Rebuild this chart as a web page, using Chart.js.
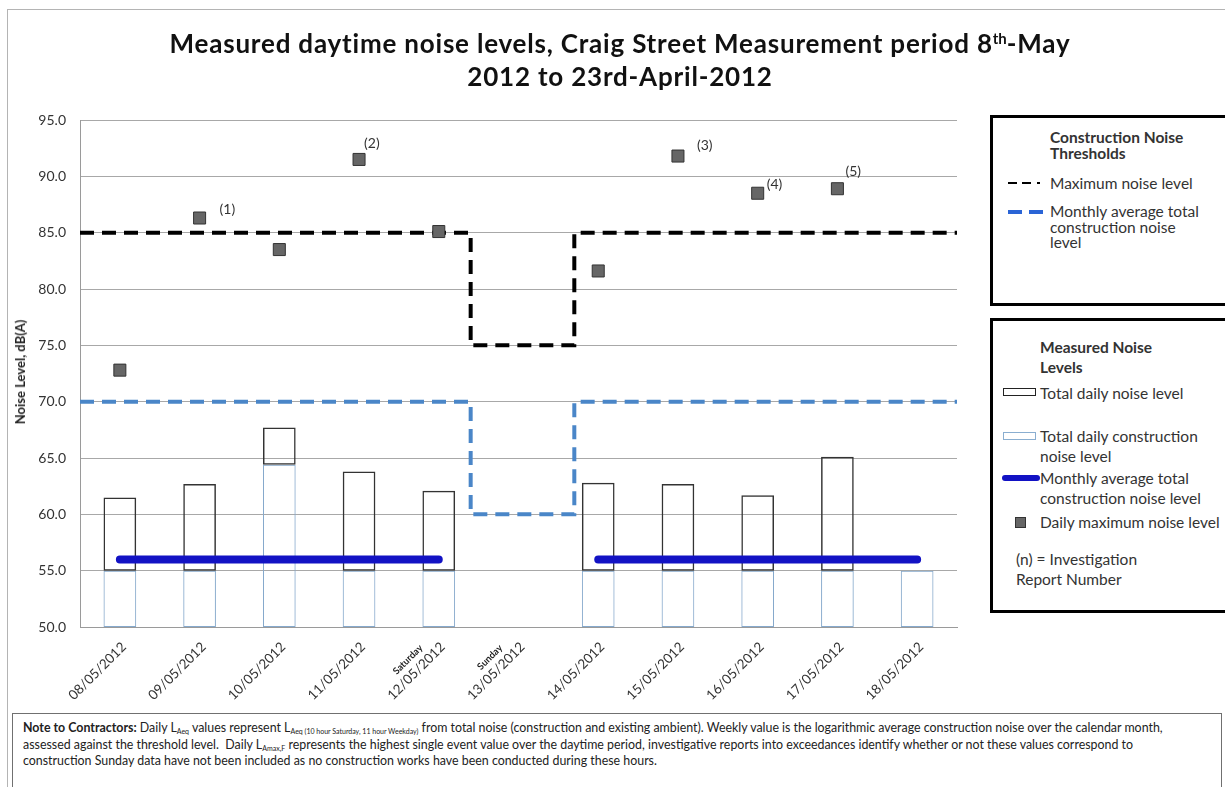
<!DOCTYPE html>
<html>
<head>
<meta charset="utf-8">
<script src="https://cdn.jsdelivr.net/npm/chart.js"></script>
<style>
  body { margin: 0; width: 1225px; height: 787px; overflow: hidden; background: #fff; position: relative; font-family: Lato, "Open Sans", sans-serif; color: #333; }
  #frame { position: absolute; left: 7px; top: 9px; width: 1300px; height: 900px; border-left: 1px solid #b4b4b4; border-top: 1px solid #b4b4b4; }
  #chart { position: absolute; left: 0; top: 0; }
  #title { position: absolute; left: 20px; width: 1200px; top: 27px; text-align: center; font-weight: bold; font-size: 26px; letter-spacing: 0.8px; line-height: 33px; color: #111; }
  #title sup { font-size: 15px; vertical-align: 9px; line-height: 0; letter-spacing: 0; }
  #ytitle { position: absolute; left: 20px; top: 372px; transform: translate(-50%, -50%) rotate(-90deg); font-weight: bold; font-size: 13px; white-space: nowrap; color: #222; }
  .box { position: absolute; left: 990px; width: 245px; border: 3px solid #000; box-sizing: border-box; background: #fff; }
  .t { position: absolute; font-size: 15.5px; line-height: 20px; white-space: nowrap; color: #333; }
  .b { font-weight: bold; color: #333; }
  #notes { position: absolute; left: 12px; top: 713px; width: 1210px; height: 100px; border: 1.5px solid #707070; box-sizing: border-box; padding: 6px 0 0 10px; font-size: 12.4px; line-height: 16.6px; white-space: nowrap; color: #222; }
  #notes sub { font-size: 7px; vertical-align: -2px; line-height: 0; }
</style>
</head>
<body>
<div id="frame"></div>
<canvas id="chart" width="980" height="710"></canvas>
<div id="title">Measured daytime noise levels, Craig Street Measurement period 8<sup>th</sup>-May<br>2012 to 23rd-April-2012</div>
<div id="ytitle">Noise Level, dB(A)</div>

<div class="box" style="top:115px;height:191px;"></div>
<div class="t b" style="left:1050px;top:129px;line-height:16px;">Construction Noise<br>Thresholds</div>
<svg style="position:absolute;left:1008px;top:177px;" width="40" height="12"><line x1="0" y1="6" x2="38" y2="6" stroke="#000" stroke-width="2" stroke-dasharray="9,5,9,6,3"/></svg>
<div class="t" style="left:1050px;top:174px;line-height:18px;">Maximum noise level</div>
<svg style="position:absolute;left:1008px;top:206px;" width="40" height="12"><line x1="0" y1="6" x2="38" y2="6" stroke="#2a64d6" stroke-width="4" stroke-dasharray="14,7"/></svg>
<div class="t" style="left:1050px;top:204px;line-height:15.5px;">Monthly average total<br>construction noise<br>level</div>

<div class="box" style="top:318px;height:295px;"></div>
<div class="t b" style="left:1040px;top:337px;">Measured Noise<br>Levels</div>
<div style="position:absolute;left:1003px;top:388px;width:33px;height:8px;border:1.5px solid #222;box-sizing:border-box;"></div>
<div class="t" style="left:1040px;top:383px;">Total daily noise level</div>
<div style="position:absolute;left:1003px;top:432px;width:33px;height:8px;border:1px solid #8aaed0;box-sizing:border-box;"></div>
<div class="t" style="left:1040px;top:426px;">Total daily construction<br>noise level</div>
<div style="position:absolute;left:1002px;top:475px;width:38px;height:6px;background:#1212c4;border-radius:3px;"></div>
<div class="t" style="left:1040px;top:468px;">Monthly average total<br>construction noise level</div>
<div style="position:absolute;left:1015px;top:517px;width:11px;height:11px;background:#666;border:1px solid #333;box-sizing:border-box;"></div>
<div class="t" style="left:1040px;top:512px;">Daily maximum noise level</div>
<div class="t" style="left:1016px;top:549px;">(n) = Investigation<br>Report Number</div>

<div id="notes"><b>Note to Contractors:</b> Daily L<sub>Aeq</sub> values represent L<sub>Aeq (10 hour Saturday, 11 hour Weekday)</sub> from total noise (construction and existing ambient). Weekly value is the logarithmic average construction noise over the calendar month,<br>assessed against the threshold level.&nbsp; Daily L<sub>Amax,F</sub> represents the highest single event value over the daytime period, investigative reports into exceedances identify whether or not these values correspond to<br>construction Sunday data have not been included as no construction works have been conducted during these hours.</div>

<script>
// measurement days
const days = ["08/05/2012", "09/05/2012", "10/05/2012", "11/05/2012", "12/05/2012", "13/05/2012",
  "14/05/2012", "15/05/2012", "16/05/2012", "17/05/2012", "18/05/2012"];
const dayNames = ["", "", "", "", "Saturday", "Sunday", "", "", "", "", ""];

// dB(A) values
const totalDaily = [61.5, 62.7, 67.7, 63.8, 62.1, null, 62.8, 62.7, 61.7, 65.1, null];
const constructionDaily = [55, 55, 64.4, 55, 55, null, 55, 55, 55, 55, 55];
const dailyMax = [72.8, 86.3, 83.5, 91.5, 85.1, null, 81.6, 91.8, 88.5, 88.9, null];
const reportNumbers = ["", "(1)", "", "(2)", "", "", "", "(3)", "(4)", "(5)", ""];
const monthlyAvgTotal = [56, 56, 56, 56, 56, null, 56, 56, 56, 56, 56];

// threshold steps (x in day index units)
const thresholdX = [-0.5, 4.4, 4.4, 5.7, 5.7, 10.5];
const maxNoiseLevel = [85, 85, 75, 75, 85, 85];
const monthlyAvgThreshold = [70, 70, 60, 60, 70, 70];

const yMin = 50;
const yMax = 95;
const yStep = 5;

const font = "Lato, 'Open Sans', sans-serif";

// label nudges for the report numbers, next to their squares
const reportOffsets = {1: [20, -9], 3: [5, -16], 7: [19, -11], 8: [9, -9], 9: [8, -17]};

const annotatePlugin = {
  id: "annotate",
  afterDatasetsDraw(chart) {
    const ctx = chart.ctx;
    const meta = chart.getDatasetMeta(0);
    ctx.save();
    ctx.font = "14px " + font;
    ctx.fillStyle = "#333";
    ctx.textBaseline = "middle";
    reportNumbers.forEach((txt, i) => {
      if (!txt) return;
      const pt = meta.data[i];
      const off = reportOffsets[i] || [8, -10];
      ctx.fillText(txt, pt.x + off[0], pt.y + off[1]);
    });
    ctx.restore();
  },
  afterDraw(chart) {
    const ctx = chart.ctx;
    const xs = chart.scales.x;
    ctx.save();
    dayNames.forEach((name, i) => {
      if (!name) return;
      const px = xs.getPixelForValue(i) + 4;
      const py = xs.top + 10;
      ctx.translate(px, py);
      ctx.rotate(-Math.PI / 4);
      ctx.font = "bold 9.5px " + font;
      ctx.fillStyle = "#222";
      ctx.textAlign = "right";
      ctx.textBaseline = "bottom";
      ctx.fillText(name, -22, -4);
      ctx.setTransform(1, 0, 0, 1, 0, 0);
    });
    ctx.restore();
  }
};

function createChart() {
  const canvas = document.querySelector("#chart");

  new Chart(canvas, {
    data: {
      labels: days,
      datasets: [
        {
          type: "line",
          label: "Daily maximum noise level",
          data: dailyMax,
          showLine: false,
          pointStyle: "rect",
          pointRadius: 8.5,
          pointBackgroundColor: "#666",
          pointBorderColor: "#333",
          pointBorderWidth: 1,
          order: 0,
        },
        {
          type: "line",
          label: "Maximum noise level",
          xAxisID: "xStep",
          data: thresholdX.map((x, i) => ({ x: x, y: maxNoiseLevel[i] })),
          borderColor: "#000",
          borderWidth: 4,
          borderDash: [14, 8],
          pointRadius: 0,
          tension: 0,
          order: 1,
        },
        {
          type: "line",
          label: "Monthly average total construction noise level (threshold)",
          xAxisID: "xStep",
          data: thresholdX.map((x, i) => ({ x: x, y: monthlyAvgThreshold[i] })),
          borderColor: "#4a86c8",
          borderWidth: 4,
          borderDash: [14, 8],
          pointRadius: 0,
          tension: 0,
          order: 2,
        },
        {
          type: "line",
          label: "Monthly average total construction noise level",
          data: monthlyAvgTotal,
          borderColor: "#1212c4",
          borderWidth: 8,
          borderCapStyle: "round",
          pointRadius: 0,
          spanGaps: false,
          order: 3,
        },
        {
          type: "bar",
          label: "Total daily noise level",
          data: totalDaily.map((v, i) => (v === null ? null : [constructionDaily[i], v])),
          backgroundColor: "rgba(0,0,0,0)",
          borderColor: "#333",
          borderWidth: 1.5,
          borderSkipped: false,
          grouped: false,
          barPercentage: 0.41,
          categoryPercentage: 1,
          order: 4,
        },
        {
          type: "bar",
          label: "Total daily construction noise level",
          data: constructionDaily.map((v) => (v === null ? null : [yMin, v])),
          backgroundColor: "rgba(0,0,0,0)",
          borderColor: "#86a9cc",
          borderWidth: 1,
          borderSkipped: false,
          grouped: false,
          barPercentage: 0.41,
          categoryPercentage: 1,
          order: 5,
        },
      ],
    },

    options: {
      responsive: false,
      animation: false,
      layout: {
        padding: { top: 120, right: 23, left: 0, bottom: 0 },
      },
      plugins: {
        legend: { display: false },
        tooltip: { enabled: false },
      },
      scales: {
        x: {
          type: "category",
          offset: true,
          grid: { display: false },
          border: { display: true, color: "#9a9a9a", width: 1 },
          ticks: {
            minRotation: 45,
            maxRotation: 45,
            padding: 4,
            labelOffset: 4,
            color: "#333",
            font: { family: font, size: 13.5 },
          },
          afterFit(scale) {
            scale.height = 83;
          },
        },
        xStep: {
          type: "linear",
          display: false,
          min: -0.5,
          max: 10.5,
        },
        y: {
          min: yMin,
          max: yMax,
          grid: { color: "#a8a8a8", lineWidth: 1, drawTicks: false },
          border: { display: true, color: "#9a9a9a" },
          ticks: {
            stepSize: yStep,
            padding: 14,
            color: "#333",
            font: { family: font, size: 14 },
            callback: function (value) {
              return value.toFixed(1);
            },
          },
          afterFit(scale) {
            scale.width = 80;
          },
        },
      },
    },
    plugins: [annotatePlugin],
  });
}

window.addEventListener("load", () => {
  createChart();
});
</script>
</body>
</html>
